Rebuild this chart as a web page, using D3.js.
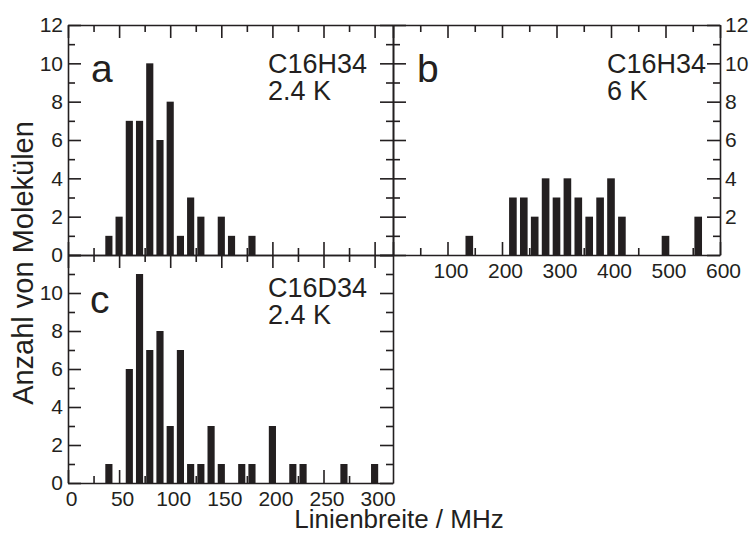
<!DOCTYPE html>
<html>
<head>
<meta charset="utf-8">
<script src="https://cdn.jsdelivr.net/npm/d3@7"></script>
<style>
  body { margin: 0; background: #fff; }
  text { font-family: "Liberation Sans", Arial, Helvetica, sans-serif; fill: #231f20; }
</style>
</head>
<body>
<svg id="chart" width="752" height="534"></svg>
<script>
'use strict';

// panel a: C16H34, 2.4 K (10 MHz bins, centre values)
const binsA = [40, 50, 60, 70, 80, 90, 100, 110, 120, 130, 150, 160, 180];
const countsA = [1, 2, 7, 7, 10, 6, 8, 1, 3, 2, 2, 1, 1];

// panel b: C16H34, 6 K (20 MHz bins)
const binsB = [140, 220, 240, 260, 280, 300, 320, 340, 360, 380, 400, 420, 500, 560];
const countsB = [1, 3, 3, 2, 4, 3, 4, 3, 2, 3, 4, 2, 1, 2];

// panel c: C16D34, 2.4 K (10 MHz bins)
const binsC = [40, 60, 70, 80, 90, 100, 110, 120, 130, 140, 150, 170, 180, 200, 220, 230, 270, 300];
const countsC = [1, 6, 11, 7, 8, 3, 7, 1, 1, 3, 1, 1, 1, 3, 1, 1, 1, 1];

const xLabelsAC = [0, 50, 100, 150, 200, 250, 300];
const xLabelsB = [100, 200, 300, 400, 500, 600];
const yLabelsA = [0, 2, 4, 6, 8, 10, 12];
const yLabelsB = [2, 4, 6, 8, 10, 12];
const yLabelsC = [0, 2, 4, 6, 8, 10];

const INK = '#231f20';
const MAJOR = 13, MINOR = 7;

const svg = d3.select('#chart');

const xAC = d3.scaleLinear().domain([0, 318]).range([68, 393]);
const xB = d3.scaleLinear().domain([0, 600]).range([393, 720]);
const yTop = d3.scaleLinear().domain([0, 12]).range([255, 25]);
const yBot = d3.scaleLinear().domain([0, 12]).range([483, 255]);

function styleAxis(g) {
    g.selectAll('path, line').attr('stroke', INK).attr('stroke-width', 1.6);
    g.selectAll('text').attr('fill', INK);
}

function ticks(g, axis, scale, values, size, transform, withDomain) {
    const a = g.append('g')
        .attr('transform', transform)
        .call(axis(scale).tickValues(values).tickSize(-size).tickSizeOuter(0).tickFormat(''));
    if (!withDomain) a.select('.domain').remove();
    styleAxis(a);
}

// frame with inward ticks on all four sides
function frame(x, y, xMajor, xMinor) {
    const g = svg.append('g');
    const [x0, x1] = x.range();
    const [y0, y1] = y.range();
    const yMajor = d3.range(0, 13, 2), yMinor = d3.range(1, 12, 2);

    ticks(g, d3.axisBottom, x, xMajor, MAJOR, 'translate(0,' + y0 + ')', true);
    ticks(g, d3.axisBottom, x, xMinor, MINOR, 'translate(0,' + y0 + ')', false);
    ticks(g, d3.axisTop, x, xMajor, MAJOR, 'translate(0,' + y1 + ')', true);
    ticks(g, d3.axisTop, x, xMinor, MINOR, 'translate(0,' + y1 + ')', false);
    ticks(g, d3.axisLeft, y, yMajor, MAJOR, 'translate(' + x0 + ',0)', true);
    ticks(g, d3.axisLeft, y, yMinor, MINOR, 'translate(' + x0 + ',0)', false);
    ticks(g, d3.axisRight, y, yMajor, MAJOR, 'translate(' + x1 + ',0)', true);
    ticks(g, d3.axisRight, y, yMinor, MINOR, 'translate(' + x1 + ',0)', false);
    return g;
}

function bars(x, y, bins, counts, binWidth) {
    const w = binWidth * 0.7;
    svg.append('g').selectAll('rect')
        .data(bins.map(function(b, i) { return { b: b, n: counts[i] }; }))
        .enter().append('rect')
        .attr('x', function(d) { return x(d.b - w / 2); })
        .attr('width', function(d) { return x(d.b + w / 2) - x(d.b - w / 2); })
        .attr('y', function(d) { return y(d.n); })
        .attr('height', function(d) { return y(0) - y(d.n); })
        .attr('fill', INK);
}

function labelAxis(axis, scale, values, transform, pad, dx) {
    const a = svg.append('g')
        .attr('transform', transform)
        .call(axis(scale).tickValues(values).tickSize(0).tickPadding(pad));
    a.select('.domain').remove();
    a.selectAll('text').style('font-size', '21px').attr('dx', dx || 0);
    styleAxis(a);
}

function note(x, y, lines, letter, lx, ly) {
    svg.append('text').attr('x', lx).attr('y', ly)
        .style('font-size', '39px').text(letter);
    lines.forEach(function(t, i) {
        svg.append('text').attr('x', x).attr('y', y + i * 27)
            .style('font-size', '27px').text(t);
    });
}

bars(xAC, yTop, binsA, countsA, 10);
bars(xB, yTop, binsB, countsB, 20);
bars(xAC, yBot, binsC, countsC, 10);

const minorAC = d3.range(25, 318, 50);
const majorAC = d3.range(0, 318, 50);
frame(xAC, yTop, majorAC, minorAC);
frame(xB, yTop, d3.range(0, 601, 100), d3.range(50, 600, 100));
frame(xAC, yBot, majorAC, minorAC);

labelAxis(d3.axisLeft, yTop, yLabelsA, 'translate(68,0)', 5);
labelAxis(d3.axisRight, yTop, yLabelsB, 'translate(720,0)', 5);
labelAxis(d3.axisLeft, yBot, yLabelsC, 'translate(68,0)', 5);
labelAxis(d3.axisBottom, xAC, xLabelsAC, 'translate(0,483)', 8, 3);
labelAxis(d3.axisBottom, xB, xLabelsB, 'translate(0,255)', 8, 3);

note(268, 73, ['C16H34', '2.4 K'], 'a', 91, 82);
note(607, 73, ['C16H34', '6 K'], 'b', 417, 82);
note(268, 297, ['C16D34', '2.4 K'], 'c', 90, 313);

svg.append('text')
    .attr('x', 399).attr('y', 528)
    .attr('text-anchor', 'middle')
    .style('font-size', '26px')
    .text('Linienbreite / MHz');

svg.append('text')
    .attr('transform', 'translate(33,263) rotate(-90)')
    .attr('text-anchor', 'middle')
    .style('font-size', '29px')
    .text('Anzahl von Molekülen');
</script>
</body>
</html>
